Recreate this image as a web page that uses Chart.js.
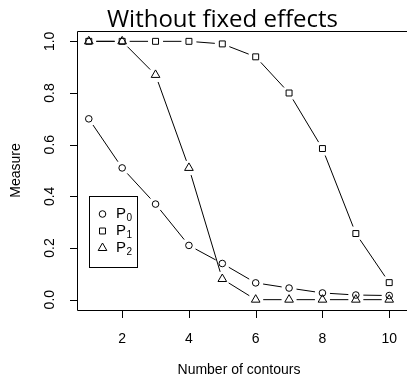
<!DOCTYPE html>
<html>
<head>
<meta charset="utf-8">
<script src="https://cdn.jsdelivr.net/npm/chart.js@4"></script>
<style>
  body { margin: 0; background: #fff; }
  canvas { display: block; }
</style>
</head>
<body>
<canvas id="chart" width="407" height="378"></canvas>
<script>
const contours = [1, 2, 3, 4, 5, 6, 7, 8, 9, 10];
const p0 = [0.70, 0.51, 0.37, 0.21, 0.14, 0.065, 0.045, 0.026, 0.018, 0.016];
const p1 = [1.0, 1.0, 1.0, 1.0, 0.99, 0.94, 0.80, 0.585, 0.256, 0.066];
const p2 = [1.0, 1.0, 0.87, 0.51, 0.08, 0.0, 0.0, 0.0, 0.0, 0.0];
const xTicks = [2, 4, 6, 8, 10];
const yTicks = [0.0, 0.2, 0.4, 0.6, 0.8, 1.0];

const GAP = 7.5;
const AXIS_FONT = '14px "Liberation Sans", Arial, sans-serif';

// R type="b": lines stop short of the points
function gapDash(ctx) {
  const a = ctx.p0, b = ctx.p1;
  const len = Math.hypot(b.x - a.x, b.y - a.y);
  if (len <= 2 * GAP) return [0, len];
  return [0, GAP, len - 2 * GAP, GAP];
}

function series(label, values, style, radius) {
  return {
    label: label,
    data: contours.map((x, i) => ({ x: x, y: values[i] })),
    showLine: true,
    borderColor: '#000',
    borderWidth: 1,
    pointStyle: style,
    pointRadius: radius,
    pointBorderColor: '#000',
    pointBackgroundColor: 'rgba(0,0,0,0)',
    pointBorderWidth: 1,
    segment: { borderDash: gapDash }
  };
}

const decor = {
  id: 'decor',
  afterDraw(chart) {
    const { ctx, chartArea: a, scales: { x, y } } = chart;
    ctx.save();
    ctx.strokeStyle = '#000';
    ctx.lineWidth = 1;
    ctx.beginPath();
    ctx.moveTo(407, a.top + 0.5);
    ctx.lineTo(a.left + 0.5, a.top + 0.5);
    ctx.lineTo(a.left + 0.5, a.bottom + 0.5);
    ctx.lineTo(407, a.bottom + 0.5);
    // ticks
    xTicks.forEach(v => {
      const px = Math.round(x.getPixelForValue(v)) + 0.5;
      ctx.moveTo(px, a.bottom);
      ctx.lineTo(px, a.bottom + 8);
    });
    yTicks.forEach(v => {
      const py = Math.round(y.getPixelForValue(v)) + 0.5;
      ctx.moveTo(a.left, py);
      ctx.lineTo(a.left - 7, py);
    });
    ctx.stroke();

    ctx.fillStyle = '#000';
    ctx.font = AXIS_FONT;
    ctx.textAlign = 'center';
    ctx.textBaseline = 'middle';
    xTicks.forEach(v => ctx.fillText(String(v), x.getPixelForValue(v), 339));
    yTicks.forEach(v => {
      ctx.save();
      ctx.translate(50, y.getPixelForValue(v));
      ctx.rotate(-Math.PI / 2);
      ctx.fillText(v.toFixed(1), 0, 0);
      ctx.restore();
    });
    ctx.fillText('Number of contours', (a.left + a.right) / 2, 370);
    ctx.save();
    ctx.translate(16, (a.top + a.bottom) / 2);
    ctx.rotate(-Math.PI / 2);
    ctx.fillText('Measure', 0, 0);
    ctx.restore();

    // title, sized to span about 231px like the original
    const title = 'Without fixed effects';
    ctx.font = '22px "Open Sans", "Lato", sans-serif';
    const size = 22 * 231 / ctx.measureText(title).width;
    ctx.font = size.toFixed(1) + 'px "Open Sans", "Lato", sans-serif';
    ctx.textBaseline = 'alphabetic';
    ctx.fillText(title, 222.5, 26.5);
    ctx.textBaseline = 'middle';

    // legend
    ctx.strokeRect(89.5, 196.5, 48, 71);
    const items = [['circle', 3.3, '0'], ['rect', 4.2, '1'], ['triangle', 5, '2']];
    items.forEach((it, i) => {
      const cy = 214 + i * 17;
      ctx.fillStyle = 'rgba(0,0,0,0)';
      Chart.helpers.drawPoint(ctx, { pointStyle: it[0], radius: it[1], borderWidth: 1 }, 102.5, cy);
      ctx.fillStyle = '#000';
      ctx.textAlign = 'left';
      ctx.font = '15px "Liberation Sans", Arial, sans-serif';
      ctx.fillText('P', 116, cy);
      ctx.font = '10px "Liberation Sans", Arial, sans-serif';
      ctx.fillText(it[2], 126.5, cy + 4);
    });
    ctx.restore();
  }
};

new Chart(document.getElementById('chart'), {
  type: 'scatter',
  data: {
    datasets: [
      series('P0', p0, 'circle', 3.3),
      series('P1', p1, 'rect', 4.2),
      series('P2', p2, 'triangle', 5)
    ]
  },
  options: {
    responsive: false,
    animation: false,
    layout: { padding: { left: 77, top: 31, right: 0, bottom: 68 } },
    scales: {
      x: { type: 'linear', min: 0.647, max: 10.353, display: false },
      y: { type: 'linear', min: -0.04, max: 1.04, display: false }
    },
    plugins: {
      legend: { display: false },
      tooltip: { enabled: false }
    }
  },
  plugins: [decor]
});
</script>
</body>
</html>
